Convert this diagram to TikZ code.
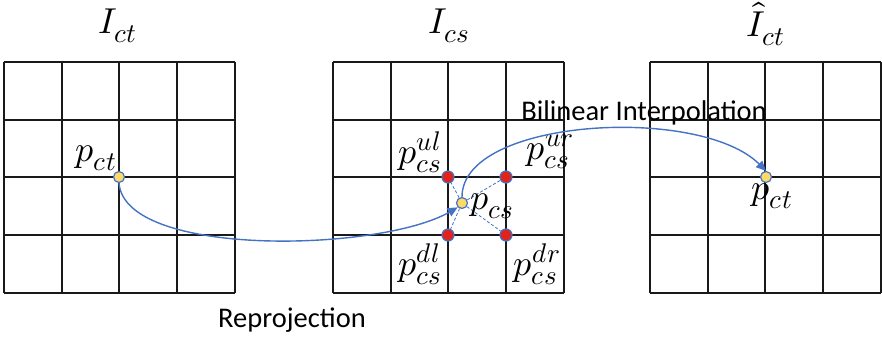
\documentclass[tikz,border=0pt]{standalone}
\usepackage{fontspec}
\usepackage{unicode-math}
\setmathfont{Latin Modern Math}
\setsansfont{Carlito}
\DeclareMathSizes{36}{36}{27}{20}
\usetikzlibrary{arrows.meta}
\definecolor{arrowblue}{HTML}{4472C4}
\definecolor{ptyellow}{HTML}{FFD966}
\definecolor{ptred}{HTML}{E0241C}
\tikzset{
  gridline/.style={line width=1.8pt, black!90},
  ypt/.style={circle, fill=ptyellow, draw=arrowblue, line width=1.2pt, minimum size=11pt, inner sep=0pt},
  rpt/.style={circle, fill=ptred, draw=arrowblue, line width=1.2pt, minimum size=12pt, inner sep=0pt},
  flow/.style={draw=arrowblue, line width=1.4pt, -{Triangle[length=10pt,width=9pt]}},
  dsh/.style={draw=arrowblue, line width=0.8pt, dash pattern=on 3pt off 2pt},
  title/.style={font=\fontsize{36}{38}\selectfont, inner sep=0pt},
  plab/.style={font=\fontsize{36}{38}\selectfont, inner sep=0pt},
  txt/.style={font=\sffamily\fontsize{28.5}{30}\selectfont, inner sep=0pt}
}
\begin{document}
\begin{tikzpicture}[x=1pt,y=-1pt]
\useasboundingbox (0,0) rectangle (882,337);
% grids
\foreach \x in {4, 333, 650}{
  \foreach \d in {0,58,115,173,231}{
    \draw[gridline] (\x+\d,62) -- (\x+\d,293);
    \draw[gridline] (\x,62+\d) -- (\x+231,62+\d);
  }
}
% titles
\node[title] (t1) at (118,26) {$I_{ct}$};
\node[title] (t2) at (449,26) {$I_{cs}$};
\node[title] (t3) at (766,24) {$\hat{I}_{ct}$};
% points
\node[ypt] (pct) at (119,177) {};
\node[ypt] (pcs) at (462,203) {};
\node[rpt] (ul) at (448,177) {};
\node[rpt] (ur) at (506,177) {};
\node[rpt] (dl) at (448,235) {};
\node[rpt] (dr) at (506,235) {};
\node[ypt] (phat) at (766,177) {};
% dashed lines
\draw[dsh] (pcs) -- (ul);
\draw[dsh] (pcs) -- (ur);
\draw[dsh] (pcs) -- (dl);
\draw[dsh] (pcs) -- (dr);
% labels
\node[plab] (lpct) at (96,158) {$p_{ct}$};
\node[plab] (lpcs) at (492,206) {$p_{cs}$};
\node[plab] (lul) at (420,152) {$p_{cs}^{ul}$};
\node[plab] (lur) at (550,152) {$p_{cs}^{ur}$};
\node[plab] (ldl) at (420,264) {$p_{cs}^{dl}$};
\node[plab] (ldr) at (537,264) {$p_{cs}^{dr}$};
\node[plab] (lphat) at (772,196) {$p_{ct}$};
% texts
\node[txt] (rep) at (292,320) {Reprojection};
\node[txt] (bil) at (644,113) {Bilinear Interpolation};
% arrows
\draw[flow] (pct.south) .. controls (125,258) and (380,252) .. (pcs.south west);
\draw[flow] (pcs.north) .. controls (462,118) and (700,105) .. (phat.north);
\end{tikzpicture}
\end{document}
